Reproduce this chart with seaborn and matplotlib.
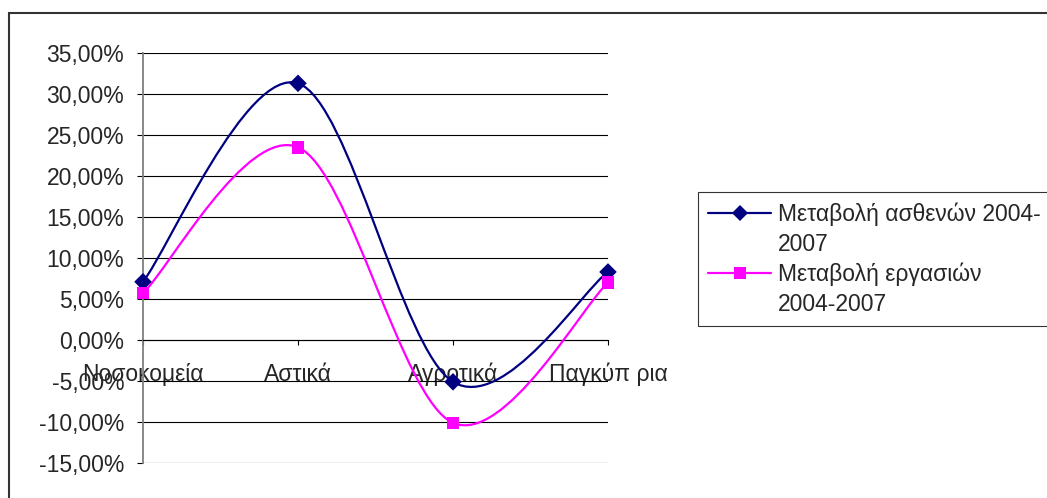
import matplotlib
matplotlib.use("Agg")
import matplotlib.pyplot as plt
from matplotlib.lines import Line2D
from matplotlib.patches import PathPatch, Rectangle
from matplotlib.path import Path
from matplotlib.ticker import FuncFormatter
import numpy as np
import pandas as pd
import seaborn as sns

#%% Data (percent change 2004-2007)
categories = ['Νοσοκομεία', 'Αστικά', 'Αγροτικά', 'Παγκύπ ρια']
patients = [7.1, 31.3, -5.1, 8.3]
works = [5.7, 23.5, -10.1, 7.0]
label_patients = ['Μεταβολή ασθενών 2004-', '2007']
label_works = ['Μεταβολή εργασιών', '2004-2007']

series_names = ['patients', 'works']
data = pd.DataFrame({
    'pos': list(range(len(categories))) * 2,
    'value': patients + works,
    'series': ['patients'] * len(categories) + ['works'] * len(categories),
})

colors = {'patients': '#000080', 'works': '#FF00FF'}
markers = {'patients': 'D', 'works': 's'}


def smooth_path(xs, ys):
    '''Excel-like smoothed line: cubic Bezier through the points'''
    pts = np.column_stack([xs, ys]).astype(float)
    ext = np.vstack([pts[0], pts, pts[-1]])
    verts = [pts[0]]
    codes = [Path.MOVETO]
    for i in range(len(pts) - 1):
        p0, p1, p2, p3 = ext[i], ext[i + 1], ext[i + 2], ext[i + 3]
        verts += [p1 + (p2 - p0) / 6, p2 - (p3 - p1) / 6, p2]
        codes += [Path.CURVE4] * 3
    return Path(verts, codes)


#%% Figure
sns.set_style("white")
plt.rcParams['font.family'] = ['Liberation Sans', 'DejaVu Sans']
fs = 16.5

fig = plt.figure(figsize=(10.47, 4.98), dpi=100)
ax = fig.add_axes([143 / 1047, 35 / 498, 465 / 1047, 410 / 498])

for name, grp in data.groupby('series', sort=False):
    ax.add_patch(PathPatch(smooth_path(grp['pos'], grp['value']),
                           fill=False, edgecolor=colors[name], lw=1.6,
                           zorder=3, clip_on=False))

sns.scatterplot(data=data, x='pos', y='value', hue='series', style='series',
                palette=colors, markers=markers, s=80, linewidth=0,
                legend=False, zorder=4, clip_on=False, ax=ax)

ax.set_xlim(0, 3)
ax.set_ylim(-15, 35)
ax.set_yticks(np.arange(-15, 36, 5))
ax.set_xticks(range(len(categories)))
ax.set_xticklabels(categories)
ax.yaxis.set_major_formatter(FuncFormatter(lambda v, p: f'{v:.2f}%'.replace('.', ',')))
ax.set_xlabel('')
ax.set_ylabel('')

ax.grid(axis='y', color='black', lw=0.8)
ax.grid(axis='x', visible=False)
for s in ['top', 'right']:
    ax.spines[s].set_visible(False)
ax.spines['left'].set_color('#808080')
ax.spines['left'].set_linewidth(1.3)
ax.spines['bottom'].set_position(('data', 0))
ax.spines['bottom'].set_color('black')
ax.spines['bottom'].set_linewidth(0.8)

ax.tick_params(axis='y', direction='out', length=4.5, width=0.8, color='black',
               pad=9, labelsize=fs, left=True)
ax.tick_params(axis='x', direction='out', length=3.5, width=0.8, color='black',
               pad=13, labelsize=fs, bottom=True)

# legend: handle sits on the first line of each wrapped label
blank = Line2D([], [], linestyle='none')
handles, labels = [], []
for n, lab in zip(series_names, [label_patients, label_works]):
    handles += [Line2D([0], [0], color=colors[n], lw=1.6, marker=markers[n],
                       markersize=8, markeredgewidth=0), blank]
    labels += lab
leg = fig.legend(handles, labels, loc='upper left',
                 bbox_to_anchor=(698 / 1047, 306 / 498), fontsize=fs,
                 frameon=True, fancybox=False, edgecolor='black',
                 handlelength=2.75, handletextpad=0.3, borderpad=0.45,
                 labelspacing=0.3, borderaxespad=0)
leg.get_frame().set_linewidth(0.8)

fig.patches.append(Rectangle((9 / 1047, -0.1), 1.2, (498 - 13) / 498 + 0.1,
                             transform=fig.transFigure, fill=False,
                             edgecolor='#333333', lw=1.5))

fig.savefig('out.png', dpi=100)
